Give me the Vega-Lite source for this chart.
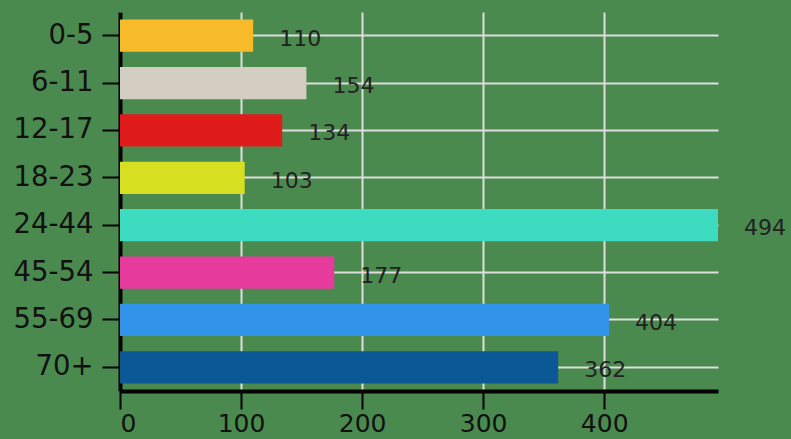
{
  "$schema": "https://vega.github.io/schema/vega-lite/v6.json",
  "autosize": "none",
  "width": 598,
  "height": 379,
  "padding": {"left": 120, "top": 12, "right": 73, "bottom": 48},
  "background": "#4b8a4f",
  "config": {"view": {"stroke": null}, "font": "DejaVu Sans"},
  "data": {"values": [
    {"age": "0-5", "count": 110},
    {"age": "6-11", "count": 154},
    {"age": "12-17", "count": 134},
    {"age": "18-23", "count": 103},
    {"age": "24-44", "count": 494},
    {"age": "45-54", "count": 177},
    {"age": "55-69", "count": 404},
    {"age": "70+", "count": 362}
  ]},
  "encoding": {
    "y": {"field": "age", "type": "nominal", "sort": null,
      "scale": {"paddingInner": 0.32, "paddingOuter": 0.16},
      "axis": {"title": null, "grid": true, "bandPosition": 0.5, "gridColor": "#dedede", "gridWidth": 2,
        "domainColor": "black", "domainWidth": 4, "tickColor": "black", "tickWidth": 2, "tickSize": 18,
        "labelFontSize": 27.5, "labelColor": "#111111", "labelPadding": 9, "labelFont": "DejaVu Sans ExtraLight, DejaVu Sans"}},
    "x": {"field": "count", "type": "quantitative",
      "scale": {"domain": [0, 494], "nice": false},
      "axis": {"title": null, "values": [0, 100, 200, 300, 400], "grid": true, "gridColor": "#dedede", "gridWidth": 2,
        "domainColor": "black", "domainWidth": 4, "tickColor": "black", "tickWidth": 2, "tickSize": 18,
        "labelFontSize": 25, "labelColor": "#111111", "labelPadding": 2, "labelFlush": true, "labelFont": "DejaVu Sans ExtraLight, DejaVu Sans"}}
  },
  "layer": [
    {"mark": {"type": "bar"},
     "encoding": {"color": {"field": "age", "type": "nominal", "sort": null, "legend": null,
       "scale": {"domain": ["0-5","6-11","12-17","18-23","24-44","45-54","55-69","70+"],
         "range": ["#f7bb2a","#d4cdc1","#e01b1c","#d6df20","#3ddcc1","#e63b9c","#3194ea","#0a5896"]}}}},
    {"mark": {"type": "text", "align": "left", "dx": 26, "dy": 3, "fontSize": 22, "color": "#222222", "font": "DejaVu Sans ExtraLight, DejaVu Sans"},
     "encoding": {"text": {"field": "count", "type": "quantitative"}}}
  ]
}
